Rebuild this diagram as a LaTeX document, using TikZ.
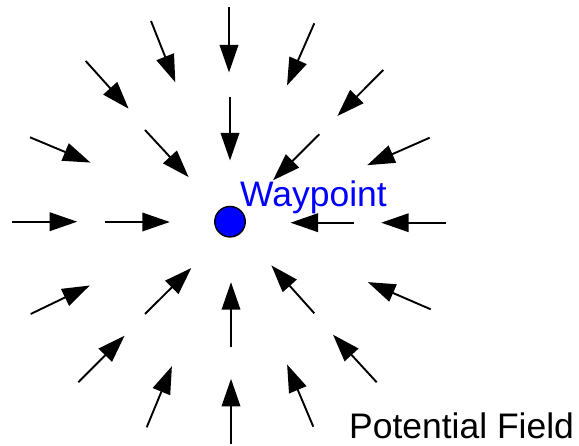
\documentclass[tikz,border=0pt]{standalone}
\usepackage{fontspec}
\setmainfont{Liberation Sans}
\usetikzlibrary{arrows.meta}
\begin{document}
\begin{tikzpicture}[x=1bp,y=-1bp,
  field/.style={line width=1.9bp,-{Triangle[length=27.5bp,width=18.5bp]}},
  lbl/.style={inner sep=0pt,anchor=base west,font=\fontsize{35.6}{40}\selectfont}]
\useasboundingbox (0,0) rectangle (579,446);
% waypoint
\node[circle,draw=black,line width=1.4bp,fill=blue,minimum size=30.5bp,inner sep=0pt] (wp) at (230,221.7) {};
\node[lbl,text=blue] (wplabel) at (240,206.7) {Waypoint};
\node[lbl] (pf) at (349,438.3) {Potential Field};
% coordinates: s = start, t = tip
\coordinate (s1) at (229,7.3);    \coordinate (t1) at (229,72.5);
\coordinate (s2) at (230,96.7);   \coordinate (t2) at (230,160.5);
\coordinate (s3) at (151,21);     \coordinate (t3) at (175.3,82.3);
\coordinate (s4) at (85.7,61);    \coordinate (t4) at (128.6,108.7);
\coordinate (s5) at (145,130);    \coordinate (t5) at (188.6,177.1);
\coordinate (s6) at (30,137.3);   \coordinate (t6) at (90.5,162.6);
\coordinate (s7) at (12,221.7);   \coordinate (t7) at (77.2,221.7);
\coordinate (s8) at (105,222);    \coordinate (t8) at (169.8,222);
\coordinate (s9) at (314.3,23.3); \coordinate (t9) at (287,85.5);
\coordinate (s10) at (383.3,70);  \coordinate (t10) at (337.4,116);
\coordinate (s11) at (319.3,134.3); \coordinate (t11) at (273,180.3);
\coordinate (s12) at (429.7,137.7); \coordinate (t12) at (367.2,165.2);
\coordinate (s13) at (354,222.7); \coordinate (t13) at (290.5,222.7);
\coordinate (s14) at (446,222.7); \coordinate (t14) at (381.2,222.7);
\coordinate (s15) at (30.7,314);  \coordinate (t15) at (89.8,285.5);
\coordinate (s16) at (145,314);   \coordinate (t16) at (191.3,268);
\coordinate (s17) at (231,347.3); \coordinate (t17) at (231,282.2);
\coordinate (s18) at (78.3,382.3); \coordinate (t18) at (124.6,335.7);
\coordinate (s19) at (146.7,427.3); \coordinate (t19) at (171.9,366.2);
\coordinate (s20) at (231,444);   \coordinate (t20) at (231,378.8);
\coordinate (s21) at (314.3,313.3); \coordinate (t21) at (271.4,265.4);
\coordinate (s22) at (430.7,309.3); \coordinate (t22) at (367.8,282.1);
\coordinate (s23) at (376.7,382.3); \coordinate (t23) at (333,334.7);
\coordinate (s24) at (313.3,426.7); \coordinate (t24) at (287.1,364.5);
\foreach \i in {1,...,24} { \draw[field] (s\i) -- (t\i); }
\end{tikzpicture}
\end{document}
